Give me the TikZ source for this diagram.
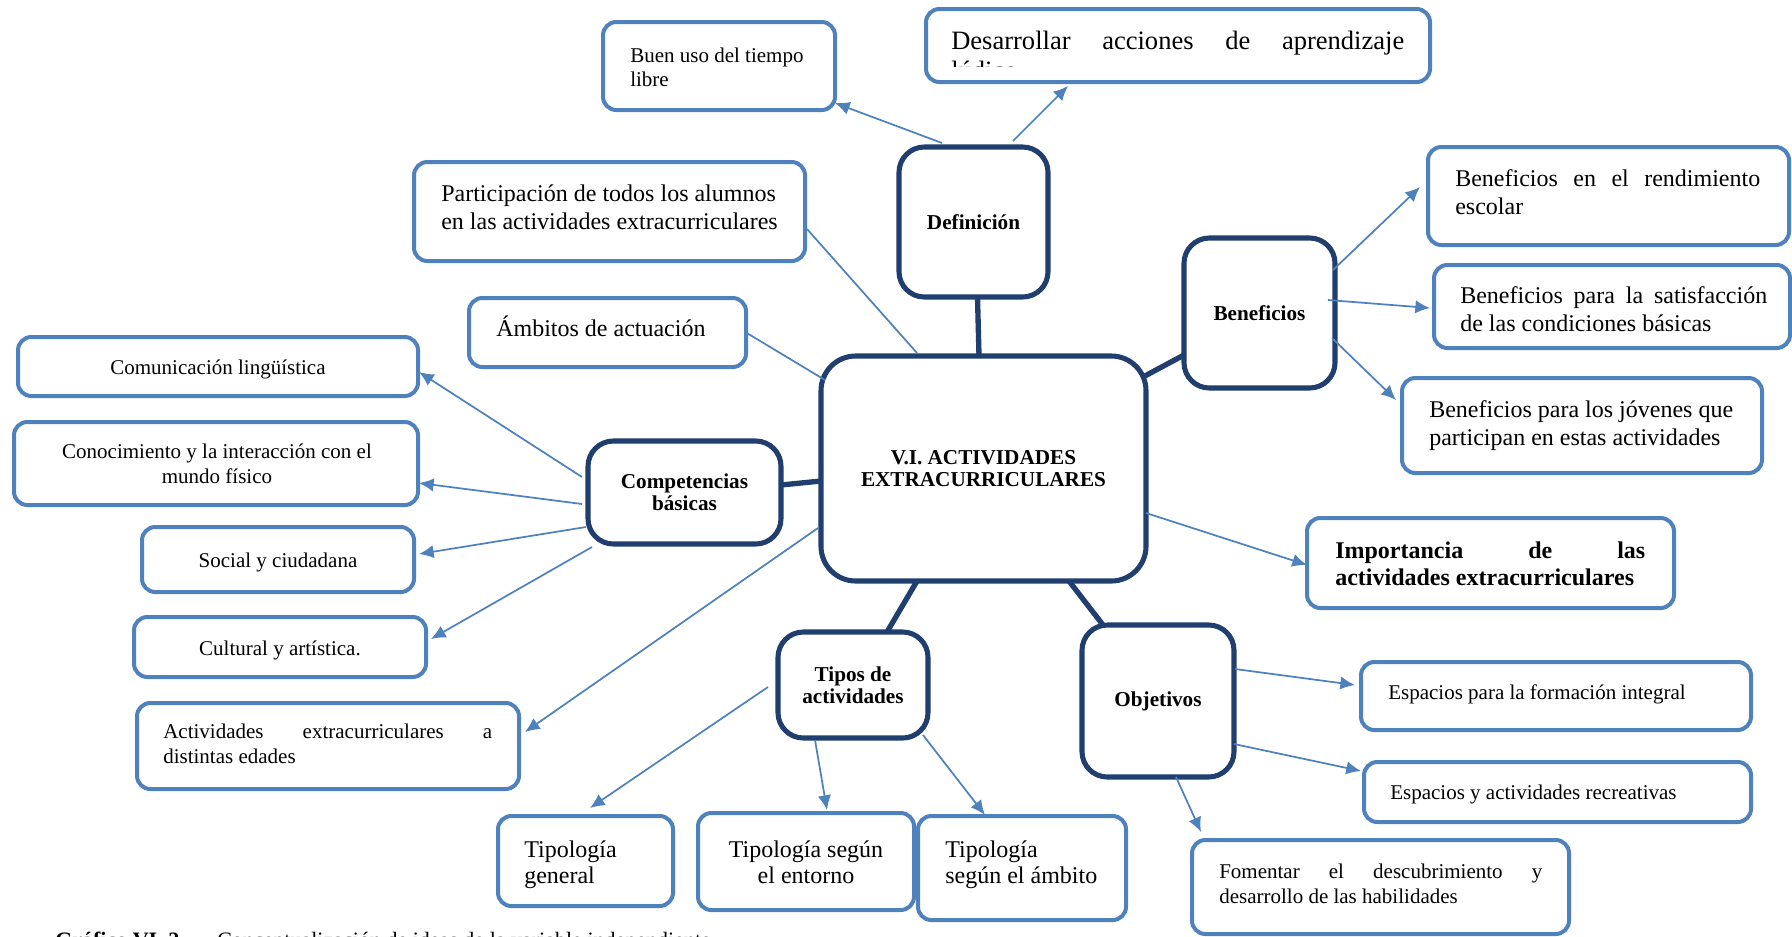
\documentclass[tikz,border=0pt]{standalone}
\usepackage{fontspec}
\setmainfont{Liberation Serif}
\usetikzlibrary{arrows.meta,fit}
\definecolor{lb}{RGB}{79,129,189}
\definecolor{db}{RGB}{32,62,110}
\begin{document}
\begin{tikzpicture}[x=0.75pt,y=-0.75pt,
  lbox/.style={draw=lb,line width=3pt,rounded corners=10pt,fill=white,inner sep=0pt,outer sep=0pt},
  dbox/.style={draw=db,line width=3.8pt,rounded corners=19pt,fill=white,inner sep=0pt,outer sep=0pt},
  cbox/.style={dbox,rounded corners=26pt},
  arr/.style={draw=lb,line width=1.3pt,-{Latex[length=11pt,width=10pt]}},
  ln/.style={draw=lb,line width=1.3pt},
  thk/.style={draw=db,line width=4pt},
  sm/.style={font=\fontsize{15.75pt}{18pt}\selectfont,inner sep=0pt},
  lg/.style={font=\fontsize{18pt}{21pt}\selectfont,inner sep=0pt},
  bd/.style={font=\fontsize{15.9pt}{16.5pt}\selectfont\bfseries,inner sep=0pt,align=center},
  tl/.style={anchor=base west},
  tc/.style={anchor=base},
]
\clip (0,0) rectangle (1792,936);

% ---------- boxes ----------
\node[lbox,fit={(603,22)(835,110)}] (buen) {};
\node[lbox,fit={(926,9)(1430,82)}] (desa) {};
\node[lbox,fit={(414,162)(805,261)}] (part) {};
\node[lbox,fit={(469,298)(746,367)}] (ambi) {};
\node[lbox,fit={(18,337)(418,396)}] (comu) {};
\node[lbox,fit={(14,422)(418,505)}] (cono) {};
\node[lbox,fit={(142,527)(414,592)}] (soci) {};
\node[lbox,fit={(134,617)(426,677)}] (cult) {};
\node[lbox,fit={(137,703)(519,789)}] (edad) {};
\node[lbox,fit={(1428,147)(1789,245)}] (rend) {};
\node[lbox,fit={(1434,265)(1790,348)}] (sati) {};
\node[lbox,fit={(1402,378)(1762,473)}] (jove) {};
\node[lbox,fit={(1307,518)(1674,608)}] (impo) {};
\node[lbox,fit={(1361,662)(1751,730)}] (form) {};
\node[lbox,fit={(1364,762)(1751,822)}] (recr) {};
\node[lbox,fit={(1192,840)(1569,934)}] (fome) {};
\node[lbox,fit={(498,816)(673,906)}] (tgen) {};
\node[lbox,fit={(698,813)(914,910)}] (tent) {};
\node[lbox,fit={(918,816)(1126,920)}] (tamb) {};

\node[dbox,fit={(588,441)(781,544)}] (comp) {};
\node[cbox,fit={(821,356)(1146,581)}] (cent) {};
\node[dbox,fit={(899,147)(1048,297)}] (defi) {};
\node[dbox,fit={(1184,238)(1335,388)}] (bene) {};
\node[dbox,fit={(778,632)(928,738)}] (tipo) {};
\node[dbox,fit={(1082,625)(1234,777)}] (obje) {};

% ---------- dark labels ----------
\node[bd] (defi-t) at (defi.center) {Definición};
\node[bd] (bene-t) at (bene.center) {Beneficios};
\node[bd] (comp-t) at (comp.center) {Competencias\\básicas};
\node[bd] (cent-t) at (cent.center) {V.I. ACTIVIDADES\\EXTRACURRICULARES};
\node[bd] (tipo-t) at (tipo.center) {Tipos de\\actividades};
\node[bd] (obje-t) at (obje.center) {Objetivos};

% ---------- light texts ----------
\node[sm,tl] (buen-1) at (630,62) {Buen uso del tiempo};
\node[sm,tl] (buen-2) at (630,86) {libre};

\begin{scope}
  \clip (930,12) rectangle (1426,66);
  \node[tl,inner sep=0pt,font=\fontsize{19.9pt}{23pt}\selectfont] (desa-1) at (951,49)
    {\makebox[339.75pt][s]{Desarrollar acciones de aprendizaje}};
  \node[tl,inner sep=0pt,font=\fontsize{19.9pt}{23pt}\selectfont] (desa-2) at (951,79) {lúdico};
\end{scope}

\node[lg,tl] (part-1) at (441,201) {Participación de todos los alumnos};
\node[lg,tl] (part-2) at (441,229) {en las actividades extracurriculares};
\node[lg,tl] (ambi-1) at (496,336) {Ámbitos de actuación};

\node[sm,tc] (comu-1) at (218,374) {Comunicación lingüística};
\node[sm,tc] (cono-1) at (217,458) {Conocimiento y la interacción con el};
\node[sm,tc] (cono-2) at (217,483) {mundo físico};
\node[sm,tc] (soci-1) at (278,567) {Social y ciudadana};
\node[sm,tc] (cult-1) at (280,655) {Cultural y artística.};
\node[sm,tl] (edad-1) at (163,738) {\makebox[246.75pt][s]{Actividades extracurriculares a}};
\node[sm,tl] (edad-2) at (163,763) {distintas edades};

\node[lg,tl] (rend-1) at (1455,186) {\makebox[228.75pt][s]{Beneficios en el rendimiento}};
\node[lg,tl] (rend-2) at (1455,214) {escolar};
\node[lg,tl] (sati-1) at (1460,303) {\makebox[230.25pt][s]{Beneficios para la satisfacción}};
\node[lg,tl] (sati-2) at (1460,331) {de las condiciones básicas};
\node[lg,tl] (jove-1) at (1429,417) {Beneficios para los jóvenes que};
\node[lg,tl] (jove-2) at (1429,445) {participan en estas actividades};
\node[lg,tl,font=\fontsize{18pt}{21pt}\selectfont\bfseries] (impo-1) at (1335,558) {\makebox[232.5pt][s]{Importancia de las}};
\node[lg,tl,font=\fontsize{18pt}{21pt}\selectfont\bfseries] (impo-2) at (1335,585) {actividades extracurriculares};

\node[sm,tl] (form-1) at (1388,699) {Espacios para la formación integral};
\node[sm,tl] (recr-1) at (1390,799) {Espacios y actividades recreativas};
\node[sm,tl] (fome-1) at (1219,878) {\makebox[242.25pt][s]{Fomentar el descubrimiento y}};
\node[sm,tl] (fome-2) at (1219,903) {desarrollo de las habilidades};

\node[lg,tl] (tgen-1) at (524,857) {Tipología};
\node[lg,tl] (tgen-2) at (524,883) {general};
\node[lg,tc] (tent-1) at (806,857) {Tipología según};
\node[lg,tc] (tent-2) at (806,883) {el entorno};
\node[lg,tl] (tamb-1) at (945,857) {Tipología};
\node[lg,tl] (tamb-2) at (945,883) {según el ámbito};

% caption (cut by the page edge)
\node[tl,inner sep=0pt,font=\fontsize{16.5pt}{18pt}\selectfont\bfseries] (cap-1) at (55,947) {Gráfico VI. 2.};
\node[tl,inner sep=0pt,font=\fontsize{16.5pt}{18pt}\selectfont] (cap-2) at (217,947) {Conceptualización de ideas de la variable independiente};

% ---------- thick connectors ----------
\draw[thk] ([shift={(4,0)}]defi.south) -- ([shift={(-4.5,0)}]cent.north);
\draw[thk] ([shift={(-3,21)}]cent.north east) -- ([shift={(0,42)}]bene.west);
\draw[thk] ([shift={(0,12.5)}]cent.west) -- ([shift={(0,-7.5)}]comp.east);
\draw[thk] ([shift={(-66.5,0)}]cent.south) -- ([shift={(34,0)}]tipo.north);
\draw[thk] ([shift={(85.5,0)}]cent.south) -- ([shift={(-55,0)}]obje.north);

% ---------- thin connectors ----------
\draw[arr] ([shift={(-31.5,-4)}]defi.north) -- ([shift={(0,-7)}]buen.south east);
\draw[arr] ([shift={(39.5,-6)}]defi.north) -- ([shift={(-110,4)}]desa.south);
\draw[ln] ([shift={(2,17.5)}]part.east) -- ([shift={(-66.5,-3)}]cent.north);
\draw[ln] (ambi.east) -- ([shift={(4,24)}]cent.north west);
\draw[arr] ([shift={(-6,-15.5)}]comp.west) -- ([shift={(1,5.5)}]comu.east);
\draw[arr] ([shift={(-6,11.5)}]comp.west) -- ([shift={(1,19.5)}]cono.east);
\draw[arr] ([shift={(-2,-17)}]comp.south west) -- ([shift={(5,-5.5)}]soci.east);
\draw[arr] ([shift={(4,3)}]comp.south west) -- ([shift={(5,-8)}]cult.east);
\draw[arr] ([shift={(-3,59.5)}]cent.west) -- ([shift={(6,-14)}]edad.east);
\draw[arr] ([shift={(-10,2)}]tipo.west) -- ([shift={(4.5,-8)}]tgen.north);
\draw[arr] ([shift={(-38,2)}]tipo.south) -- ([shift={(21,-3)}]tent.north);
\draw[arr] ([shift={(-5,-3)}]tipo.south east) -- ([shift={(-37,-1)}]tamb.north);
\draw[arr] ([shift={(0,44.5)}]cent.east) -- ([shift={(0,2)}]impo.west);
\draw[arr] ([shift={(-2,-43)}]bene.east) -- ([shift={(-8,-9)}]rend.west);
\draw[arr] ([shift={(-7,-13)}]bene.east) -- ([shift={(-4,1.5)}]sati.west);
\draw[arr] ([shift={(-3,25)}]bene.east) -- ([shift={(-6,-25.5)}]jove.west);
\draw[arr] ([shift={(1,-32)}]obje.east) -- ([shift={(-6,-11)}]form.west);
\draw[arr] ([shift={(0,43)}]obje.east) -- ([shift={(-3,-21)}]recr.west);
\draw[arr] ([shift={(18,0)}]obje.south) -- ([shift={(-179.5,-8)}]fome.north);
\end{tikzpicture}
\end{document}
